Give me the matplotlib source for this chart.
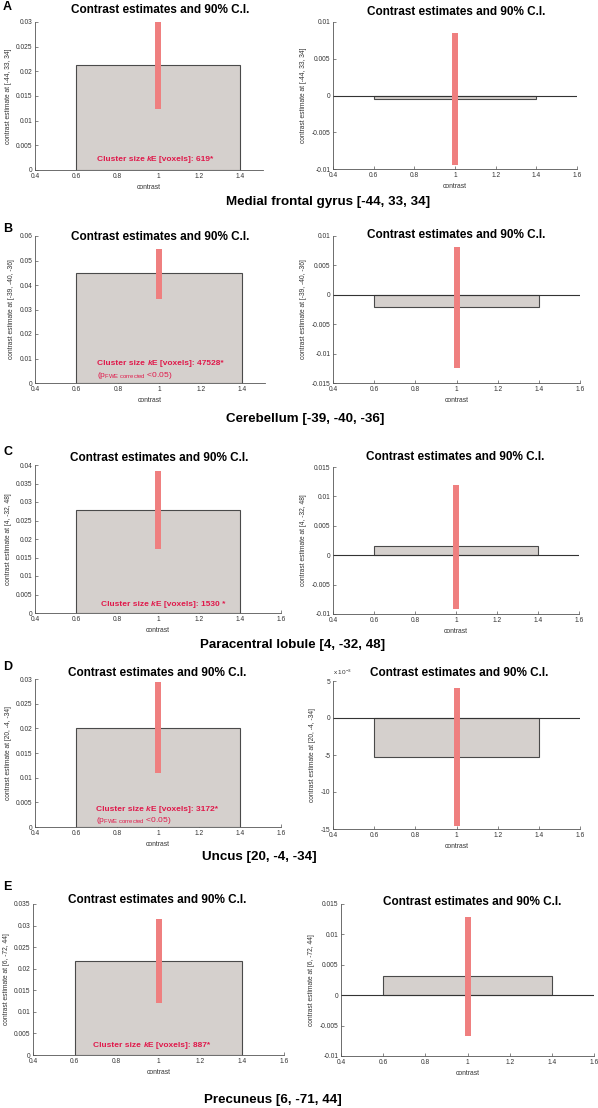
import numpy as np
import matplotlib
matplotlib.use("Agg")
import matplotlib.pyplot as plt
from matplotlib.offsetbox import TextArea, HPacker, AnnotationBbox

plt.rcParams['font.family'] = ['Liberation Sans', 'DejaVu Sans']
plt.rcParams['mathtext.fontset'] = 'custom'
plt.rcParams['mathtext.rm'] = 'Liberation Sans'
plt.rcParams['mathtext.it'] = 'Liberation Sans:italic'

# data
panel_letters = ["A", "B", "C", "D", "E"]
regions = ["Medial frontal gyrus [-44, 33, 34]", "Cerebellum [-39, -40, -36]",
           "Paracentral lobule [4, -32, 48]", "Uncus [20, -4, -34]",
           "Precuneus [6, -71, 44]"]
ylabel_coords = ["[-44, 33, 34]", "[-39, -40, -36]", "[4, -32, 48]",
                 "[20, -4, -34]", "[6, -72, 44]"]
left_est = [0.0212, 0.0447, 0.0278, 0.0201, 0.0219]
left_lo = [0.0123, 0.0341, 0.0174, 0.0109, 0.0120]
left_hi = [0.0300, 0.0546, 0.0383, 0.0294, 0.0316]
right_est = [-0.0005, -0.0021, 0.0015, -0.0053, 0.0031]
right_lo = [-0.0095, -0.0125, -0.0091, -0.0146, -0.0067]
right_hi = [0.0085, 0.0082, 0.0120, 0.0040, 0.0128]
cluster_sizes = ["619*", "47528*", "1530 *", "3172*", "887*"]
fwe_note = [False, True, False, True, False]
left_ylim = [(0, 0.03), (0, 0.06), (0, 0.04), (0, 0.03), (0, 0.035)]
left_ystep = [0.005, 0.01, 0.005, 0.005, 0.005]
left_xmax = [1.51, 1.51, 1.6, 1.6, 1.6]
right_ylim = [(-0.01, 0.01), (-0.015, 0.01), (-0.01, 0.015), (-0.015, 0.005), (-0.01, 0.015)]
right_ystep = [0.005, 0.005, 0.005, 0.005, 0.005]
right_scaled = [False, False, False, True, False]

# layout in pixels (left, top, right, bottom)
W, H = 598, 1108
left_box = [(35, 22, 263, 170), (35, 236, 265, 383), (35, 465, 281, 613),
            (35, 679, 281, 827), (33, 904, 284, 1055)]
right_box = [(333, 22, 577, 169), (333, 236, 580, 383), (333, 467, 579, 614),
             (333, 681, 580, 829), (341, 904, 594, 1056)]
title_left = [(160, 10), (160, 237), (159, 458), (157, 673), (157, 900)]
title_right = [(456, 12), (456, 235), (455, 457), (459, 673), (472, 902)]
letter_y = [7, 229, 452, 667, 887]
region_pos = [(226, 202), (226, 419), (200, 645), (202, 857), (204, 1100)]
note_pos = [(0.70, 0.068, None), (0.70, 0.13, 0.054), (0.722, 0.06, None),
            (0.697, 0.12, 0.047), (0.688, 0.066, None)]

bar_face = '#d5d0cd'
bar_edge = '#4a4a4a'
ci_color = '#ef7f7f'
note_color = '#e0194b'
tick_color = '#333333'


def rect(box):
    l, t, r, b = box
    return [l / W, 1 - b / H, (r - l) / W, (b - t) / H]


def style_axes(ax, coords):
    for s in ['top', 'right']:
        ax.spines[s].set_visible(False)
    for s in ['left', 'bottom']:
        ax.spines[s].set_color('#555555')
        ax.spines[s].set_linewidth(0.6)
    ax.tick_params(direction='in', length=2, width=0.5, labelsize=4.8,
                   colors='#555555', labelcolor=tick_color, pad=2)
    ax.set_xlabel('contrast', fontsize=4.9, color=tick_color, labelpad=3)
    ax.set_ylabel('contrast estimate at ' + coords, fontsize=4.8,
                  color=tick_color, labelpad=3)


fig = plt.figure(figsize=(W / 100, H / 100), dpi=100)

for i in range(5):
    # left panel
    ax = fig.add_axes(rect(left_box[i]))
    ax.bar(1, left_est[i], width=0.8, color=bar_face, edgecolor=bar_edge,
           linewidth=0.8, zorder=2)
    ax.plot([1, 1], [left_lo[i], left_hi[i]], color=ci_color, linewidth=4.3,
            solid_capstyle='butt', zorder=3)
    ax.set_xlim(0.4, left_xmax[i])
    ax.set_ylim(*left_ylim[i])
    ax.set_xticks(np.round(np.arange(0.4, left_xmax[i] + 1e-9, 0.2), 1))
    ax.set_xticklabels(['%g' % v for v in ax.get_xticks()])
    yt = np.round(np.arange(left_ylim[i][0], left_ylim[i][1] + 1e-9, left_ystep[i]), 4)
    ax.set_yticks(yt)
    ax.set_yticklabels(['%g' % v for v in yt])
    style_axes(ax, ylabel_coords[i])

    x0, y1, y2 = note_pos[i]
    fp = dict(color=note_color, fontsize=6, fontweight='bold')
    line = HPacker(children=[TextArea("Cluster size ", textprops=fp),
                             TextArea("k", textprops=dict(fp, fontstyle='italic')),
                             TextArea("E [voxels]: " + cluster_sizes[i], textprops=fp)],
                   pad=0, sep=0, align='baseline')
    ab = AnnotationBbox(line, (x0, y1), xycoords=('data', 'axes fraction'),
                        box_alignment=(0, 0.5), frameon=False, pad=0)
    ax.add_artist(ab)
    if fwe_note[i]:
        ax.text(x0, y2, r"(p$_{\rm FWE\ corrected}$ <0.05)", color=note_color,
                fontsize=6.1, transform=ax.get_xaxis_transform(), va='center',
                ha='left')

    # right panel
    ax = fig.add_axes(rect(right_box[i]))
    ax.bar(1, right_est[i], width=0.8, color=bar_face, edgecolor=bar_edge,
           linewidth=0.8, zorder=2)
    ax.axhline(0, color='#333333', linewidth=0.8, zorder=2.5)
    ax.plot([1, 1], [right_lo[i], right_hi[i]], color=ci_color, linewidth=4.3,
            solid_capstyle='butt', zorder=3)
    ax.set_xlim(0.4, 1.6)
    ax.set_ylim(*right_ylim[i])
    ax.set_xticks(np.round(np.arange(0.4, 1.6 + 1e-9, 0.2), 1))
    ax.set_xticklabels(['%g' % v for v in ax.get_xticks()])
    yt = np.round(np.arange(right_ylim[i][0], right_ylim[i][1] + 1e-9, right_ystep[i]), 4)
    ax.set_yticks(yt)
    if right_scaled[i]:
        ax.set_yticklabels(['%g' % round(v * 1000) for v in yt])
        ax.text(0.0, 1.03, r"x 10$^{-3}$", transform=ax.transAxes, fontsize=4.6,
                color=tick_color, ha='left', va='bottom')
    else:
        ax.set_yticklabels(['%g' % v for v in yt])
    style_axes(ax, ylabel_coords[i])

    # titles and labels
    for (tx, ty) in (title_left[i], title_right[i]):
        fig.text(tx / W, 1 - ty / H, "Contrast estimates and 90% C.I.",
                 fontsize=8.5, fontweight='bold', ha='center', va='center')
    fig.text(3 / W, 1 - letter_y[i] / H, panel_letters[i], fontsize=9,
             fontweight='bold', ha='left', va='center')
    rx, ry = region_pos[i]
    fig.text(rx / W, 1 - ry / H, regions[i], fontsize=9.6, fontweight='bold',
             ha='left', va='center')

fig.savefig('out.png', dpi=100, facecolor='white')
